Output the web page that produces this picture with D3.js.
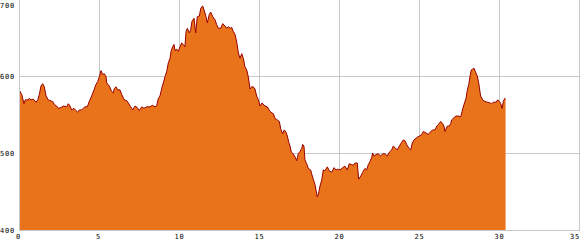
<!DOCTYPE html>
<html>
<head>
<meta charset="utf-8">
<script src="https://cdn.jsdelivr.net/npm/d3@7"></script>
<style>
html,body{margin:0;padding:0;background:#fff;}
svg{display:block;}
</style>
</head>
<body>
<svg id="chart" width="580" height="250"></svg>
<script>
const distanceKm = [0,0.14,0.28,0.36,0.55,0.61,0.72,0.86,1.03,1.14,1.24,1.34,1.45,1.55,1.66,1.80,1.91,2.07,2.18,2.32,2.43,2.59,2.74,2.95,3.05,3.16,3.26,3.41,3.53,3.64,3.74,3.89,4.09,4.24,4.36,4.51,4.66,4.78,4.89,4.99,5.09,5.20,5.30,5.41,5.45,5.61,5.76,5.86,5.93,6.03,6.14,6.28,6.39,6.55,6.70,6.80,6.95,7.07,7.22,7.36,7.49,7.64,7.78,7.95,8.16,8.30,8.47,8.57,8.68,8.78,8.89,8.99,9.09,9.20,9.30,9.41,9.47,9.57,9.66,9.72,9.82,9.93,10.03,10.14,10.24,10.34,10.41,10.49,10.61,10.70,10.78,10.91,11.01,11.11,11.24,11.33,11.45,11.53,11.66,11.74,11.86,11.95,12.08,12.22,12.32,12.43,12.58,12.70,12.84,12.95,13.05,13.16,13.26,13.36,13.47,13.57,13.68,13.78,13.89,13.99,14.09,14.20,14.30,14.41,14.51,14.61,14.72,14.82,14.93,15.03,15.16,15.34,15.49,15.66,15.78,15.87,15.97,16.11,16.24,16.33,16.45,16.55,16.66,16.74,16.83,16.91,16.99,17.11,17.22,17.33,17.42,17.53,17.64,17.70,17.78,17.84,17.95,18.05,18.20,18.26,18.36,18.47,18.53,18.61,18.70,18.78,18.89,18.99,19.09,19.24,19.36,19.51,19.66,19.78,19.92,20.03,20.20,20.34,20.49,20.61,20.76,20.86,20.97,21.11,21.20,21.33,21.45,21.59,21.70,21.80,21.91,22.01,22.07,22.16,22.28,22.42,22.57,22.70,22.84,22.99,23.11,23.26,23.36,23.47,23.61,23.74,23.89,23.99,24.09,24.20,24.34,24.45,24.55,24.66,24.83,24.99,25.14,25.24,25.41,25.55,25.66,25.83,25.97,26.08,26.18,26.33,26.45,26.53,26.59,26.74,26.86,26.95,27.01,27.11,27.28,27.43,27.58,27.66,27.78,27.91,27.99,28.08,28.16,28.24,28.33,28.41,28.49,28.61,28.70,28.82,28.95,29.09,29.24,29.41,29.51,29.61,29.78,29.89,29.99,30.08,30.16,30.24,30.33,30.38];
const elevationM = [581,576,564,569,569,571,569,570,566,569,576,587,590,586,574,569,568,567,563,561,558,559,561,560,564,561,556,558,555,553,556,556,560,560,567,574,582,589,593,599,607,602,603,599,591,587,580,578,584,586,582,582,576,569,568,565,560,556,561,559,555,560,558,560,560,562,560,561,571,574,584,591,599,606,617,623,632,638,641,633,635,632,638,643,641,638,658,662,656,660,671,675,656,677,678,688,691,686,677,669,680,683,677,673,667,662,662,668,665,662,664,662,663,658,654,645,630,623,629,623,612,608,599,583,586,586,583,574,569,561,565,561,560,554,552,551,545,543,541,531,525,530,527,522,514,509,501,499,495,490,499,502,506,511,509,491,486,480,478,473,466,459,452,443,448,457,465,478,477,482,477,475,481,478,479,478,481,483,478,486,485,484,487,487,466,470,475,480,478,485,489,494,500,496,498,499,496,499,499,496,501,504,509,507,504,509,514,517,516,511,506,504,513,517,520,522,524,528,526,524,527,530,530,535,537,541,538,535,528,535,535,538,543,545,548,548,547,554,563,571,582,589,600,608,609,610,606,600,591,574,569,567,566,565,564,566,566,569,567,564,558,567,571,570];
const xTicks = [0,5,10,15,20,25,30,35];
const yTicks = [400,500,600,700];

const svg = d3.select('#chart');
const x = d3.scaleLinear().domain([0,35]).range([19,579]);
const y = d3.scaleLinear().domain([400,700]).range([230,-1]);
const data = distanceKm.map((d,i)=>({km:d, m:elevationM[i]}));

const font = '"DejaVu Sans Mono", monospace';

// grid via axes
const gx = svg.append('g').attr('transform','translate(0,230)')
  .call(d3.axisBottom(x).tickValues(xTicks).tickSize(-231).tickPadding(4.5).tickFormat(d3.format('d')));
gx.select('.domain').remove();
gx.selectAll('line').attr('stroke','#c8c8c8');
gx.selectAll('text').attr('font-family',font).attr('font-size',7).attr('letter-spacing',0.8).attr('fill','#000');
gx.selectAll('.tick').filter(d=>d===35).select('text').attr('text-anchor','end').attr('x',0.5);
gx.selectAll('.tick').filter(d=>d<10).select('text').attr('x',-1);

const gy = svg.append('g').attr('transform','translate(19,0)')
  .call(d3.axisLeft(y).tickValues(yTicks).tickSize(-560).tickPadding(4).tickFormat(d3.format('d')));
gy.select('.domain').remove();
gy.selectAll('line').attr('stroke','#c8c8c8');
gy.selectAll('text').attr('font-family',font).attr('font-size',7).attr('letter-spacing',0.8).attr('fill','#000');
gy.selectAll('.tick').filter(d=>d===700).select('text').attr('y',6);

// area
const area = d3.area().x(d=>x(d.km)+0.5).y0(y(400)).y1(d=>y(d.m));
svg.append('path').datum(data).attr('d',area).attr('fill','#e9731b');
const line = d3.line().x(d=>x(d.km)+0.5).y(d=>y(d.m));
svg.append('path').datum(data).attr('d',line).attr('fill','none').attr('stroke','#990000').attr('stroke-width',1);

// axis frame lines
svg.append('line').attr('x1',x(0)+0.5).attr('x2',x(0)+0.5).attr('y1',0).attr('y2',y(400)+0.5).attr('stroke','#c8c8c8');
svg.append('line').attr('x1',x(0)).attr('x2',x(35)+1).attr('y1',y(400)+0.5).attr('y2',y(400)+0.5).attr('stroke','#c8c8c8');
</script>
</body>
</html>
